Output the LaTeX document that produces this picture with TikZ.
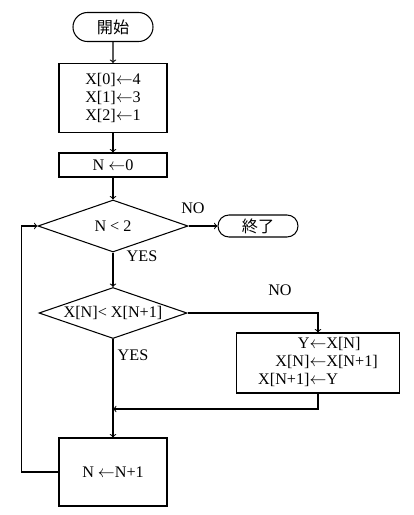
\documentclass[tikz,border=0pt]{standalone}
\usepackage{fontspec}
\setmainfont{Liberation Serif}
\newfontfamily\jp{Noto Sans CJK JP}
\usetikzlibrary{shapes.geometric, shapes.misc}
\newcommand{\lar}{\ensuremath{\leftarrow}}

\begin{document}
\begin{tikzpicture}[x=0.025cm, y=-0.025cm, line width=0.75pt,
	box/.style={draw, rectangle, minimum width=2.7cm, inner sep=0pt, align=center},
	term/.style={draw, rounded rectangle, minimum width=2cm, inner sep=0pt},
	cond/.style={draw, diamond, aspect=2.9, inner sep=0pt},
	every node/.style={font=\fontsize{11.5}{12.5}\selectfont}]
		\useasboundingbox (0,0) rectangle (414,515);
		\node[term, minimum height=0.725cm] (start) at (113,27) {\jp 開始};
		\node[box, minimum height=1.725cm] (init) at (113,98) {X[0]\lar4\\ X[1]\lar3\\ X[2]\lar1};
		\node[box, minimum height=0.6cm] (setn) at (113,165) {N \lar0};
		\node[cond, minimum width=3.75cm, minimum height=1.3cm] (check) at (113,226) {N < 2};
		\node[term, minimum height=0.55cm] (stop) at (258,226) {\jp 終了};
		\node[cond, minimum width=3.7cm, minimum height=1.275cm] (cmp) at (113,313) {X[N]< X[N+1]};
		\node[box, minimum width=4.075cm, minimum height=1.5cm] (swap) at (318,363) {%
			\begin{tabular}{@{}r@{}l@{}}
			Y\ &\lar X[N]\\
			X[N]&\lar X[N+1]\\
			X[N+1]&\lar Y
			\end{tabular}};
		\node[box, minimum height=1.7cm] (incr) at (113,472) {N \lar N+1};
		\coordinate (merge) at (113,409);

		\draw[->] (start) -- (init);
		\draw[->] (init) -- (setn);
		\draw[->] (setn) -- (check);
		\draw[->] (check) -- (stop);
		\draw[->] (check) -- (cmp);
		\draw[->] (cmp.east) -| (swap.north);
		\draw[->] (swap.south) |- (merge);
		\draw[->] (cmp.south) -- (incr.north);
		\draw[->] (incr.west) -- ++(-37,0) |- (check.west);

		\node at (193,208) {NO};
		\node at (142,256) {YES};
		\node at (280,290) {NO};
		\node at (133,355) {YES};
	\end{tikzpicture}
\end{document}
